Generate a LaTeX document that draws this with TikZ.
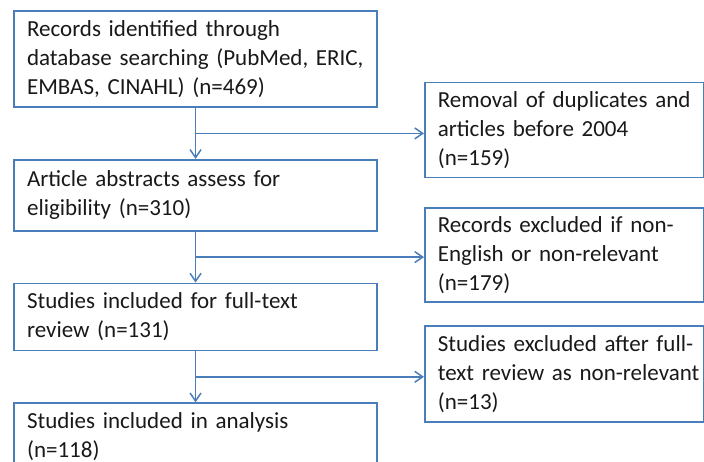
\documentclass[tikz,border=0pt]{standalone}
\usepackage{fontspec}
\setmainfont{Carlito}
\usetikzlibrary{arrows.meta,calc}

\definecolor{flowblue}{RGB}{74,126,187}
\tikzstyle {mainbox} = [draw=flowblue, line width=1.7pt, text=black!90, text width=337pt, inner xsep=13pt, inner ysep=0pt, align=left, font=\fontsize{23}{29}\selectfont]
\tikzstyle {sidebox} = [mainbox, text width=253pt]
\tikzstyle {flow} = [draw=flowblue, line width=1.5pt, -{Straight Barb[length=8pt,width=11pt]}]

\begin{document}
\begin{tikzpicture}[x=1pt, y=1pt]
            \useasboundingbox (0,0) rectangle (704,-462);
            \matrix [row sep=51pt, inner sep=0pt, anchor=north west] at (13,-10) {
                \node [mainbox, minimum height=96pt] (records) {Records identified through\\database searching (PubMed, ERIC,\\EMBAS, CINAHL) (n=469)}; \\
                \node [mainbox, minimum height=71pt] (abstracts) {Article abstracts assess for\\eligibility (n=310)}; \\
                \node [mainbox, minimum height=67pt] (fulltext) {Studies included for full-text\\review (n=131)}; \\
                \node [mainbox, minimum height=66pt] (analysis) {Studies included in analysis\\(n=118)}; \\
            };
            % side boxes: \mbox keeps each line whole
            \node [sidebox, minimum height=95pt, anchor=west] (duplicates) at (424,-130) {\mbox{Removal of duplicates and}\\articles before 2004\\(n=159)};
            \node [sidebox, minimum height=94pt, anchor=west] (nonrelevant) at (424,-255) {\mbox{Records excluded if non-}\\\mbox{English or non-relevant}\\(n=179)};
            \node [sidebox, minimum height=96pt, anchor=west] (excluded) at (424,-374) {\mbox{Studies excluded after full-}\\\mbox{text review as non-relevant}\\(n=13)};
            \coordinate (split1) at ($(records.south)!.5!(abstracts.north)$);
            \coordinate (split2) at ($(abstracts.south)!.5!(fulltext.north)$);
            \coordinate (split3) at ($(fulltext.south)!.5!(analysis.north)$);
            \draw [flow] (records.south) -- (abstracts.north);
            \draw [flow] (abstracts.south) -- (fulltext.north);
            \draw [flow] (fulltext.south) -- (analysis.north);
            \draw [flow] (split1) -- (split1 -| duplicates.west);
            \draw [flow] (split2) -- (split2 -| nonrelevant.west);
            \draw [flow] (split3) -- (split3 -| excluded.west);
        \end{tikzpicture}
\end{document}
